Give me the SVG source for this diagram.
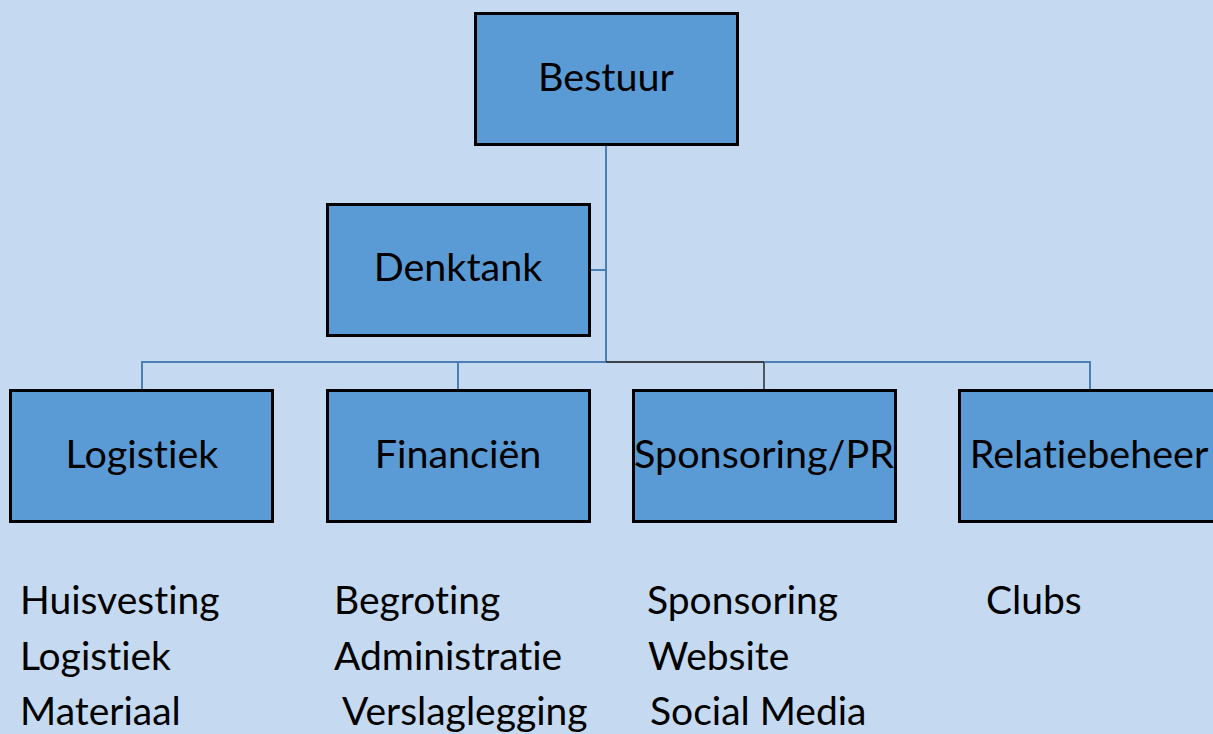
<svg xmlns="http://www.w3.org/2000/svg" width="1213" height="734" viewBox="0 0 1213 734">
<style>
.bg{fill:#C5DAF0}
.box{fill:#5B9BD5;stroke:#000;stroke-width:3}
.lbl{font-family:Lato,"Liberation Sans",sans-serif;font-size:39.5px;fill:#000;text-anchor:middle;font-variant-ligatures:none}
.item{font-family:Lato,"Liberation Sans",sans-serif;font-size:39px;fill:#000;font-variant-ligatures:none}
.conn{fill:none;stroke:#4A7EB5;stroke-width:2}
.connk{fill:none;stroke:#111;stroke-width:1.3}
</style>
<rect class="bg" x="0" y="0" width="1213" height="734"/>
<g id="connectors">
<path class="conn" d="M606,144 V362"/>
<path class="conn" d="M590,270 H606"/>
<path class="conn" d="M142,390 V362 H606"/>
<path class="conn" d="M458,362 V390"/>
<path class="connk" d="M606,362 H764 V390"/>
<path class="conn" d="M764,362 H1090 V390"/>
</g>
<g id="bestuur"><rect class="box" x="475.5" y="13.5" width="262" height="131"/><text class="lbl" x="606" y="91">Bestuur</text></g>
<g id="denktank"><rect class="box" x="327.5" y="204.5" width="262" height="131"/><text class="lbl" x="458" y="281">Denktank</text></g>
<g id="logistiek"><rect class="box" x="10.5" y="390.5" width="262" height="131"/><text class="lbl" x="142" y="468">Logistiek</text></g>
<g id="financien"><rect class="box" x="327.5" y="390.5" width="262" height="131"/><text class="lbl" x="458" y="468">Financiën</text></g>
<g id="sponsoring"><rect class="box" x="633.5" y="390.5" width="262" height="131"/><text class="lbl" x="764" y="468">Sponsoring/PR</text></g>
<g id="relatiebeheer"><rect class="box" x="959.5" y="390.5" width="262" height="131"/><text class="lbl" x="1089" y="468">Relatiebeheer</text></g>
<g id="items">
<text class="item" x="20" y="614">Huisvesting</text>
<text class="item" x="20" y="670">Logistiek</text>
<text class="item" x="20" y="725">Materiaal</text>
<text class="item" x="334" y="614">Begroting</text>
<text class="item" x="334" y="670">Administratie</text>
<text class="item" x="342" y="725">Verslaglegging</text>
<text class="item" x="647" y="614">Sponsoring</text>
<text class="item" x="648" y="670">Website</text>
<text class="item" x="650" y="725">Social Media</text>
<text class="item" x="986" y="614">Clubs</text>
</g>
</svg>
